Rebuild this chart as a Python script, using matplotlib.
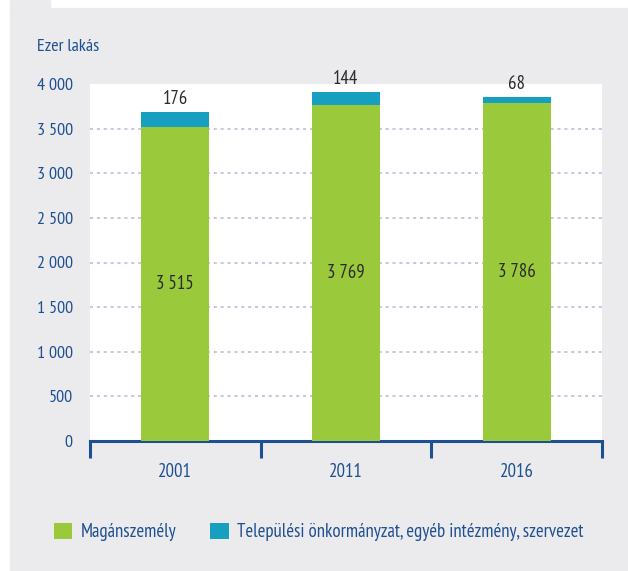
import matplotlib.pyplot as plt
from matplotlib.patches import Rectangle
from matplotlib import font_manager

years = ['2001', '2011', '2016']
private = [3515, 3769, 3786]
municipal = [176, 144, 68]
legend_labels = ['Magánszemély', 'Települési önkormányzat, egyéb intézmény, szervezet']
yticks = [0, 500, 1000, 1500, 2000, 2500, 3000, 3500, 4000]

green = '#9aca3c'
blue = '#179fbf'
navy = '#1d4f91'
bg = '#ebebed'

# pick a condensed face close to the original Myriad Condensed
names = {f.name for f in font_manager.fontManager.ttflist}
fam = 'DejaVu Sans'
for cand in ['PT Sans Narrow', 'Fira Sans Condensed', 'Roboto Condensed',
             'Open Sans Condensed', 'Liberation Sans Narrow']:
    if cand in names:
        fam = cand
        break
plt.rcParams['font.family'] = [fam, 'DejaVu Sans']
if fam == 'DejaVu Sans':
    plt.rcParams['font.stretch'] = 'condensed'

fig = plt.figure(figsize=(6.28, 5.71), dpi=100)
W, H = 628, 571
# grey panel with a small tab at the top-left
fig.patches.append(Rectangle((10 / W, 0), 1 - 10 / W, 1 - 8 / H, transform=fig.transFigure,
                             color=bg, zorder=-5))
fig.patches.append(Rectangle((10 / W, 1 - 8 / H), 40 / W, 8 / H, transform=fig.transFigure,
                             color=bg, zorder=-5))

ax = fig.add_axes([90 / W, 1 - 441 / H, (602 - 90) / W, (441 - 84) / H])
ax.set_facecolor('white')
x = range(len(years))
ax.bar(x, private, width=0.4, color=green, zorder=3, label=legend_labels[0])
ax.bar(x, municipal, width=0.4, bottom=private, color=blue, zorder=3, label=legend_labels[1])

for i in x:
    ax.text(i, private[i] / 2, f'{private[i]:,}'.replace(',', ' '), ha='center', va='center',
            fontsize=13.5, color='#2b2b2b', zorder=4)
    ax.text(i, private[i] + municipal[i] + 40, str(municipal[i]), ha='center', va='bottom',
            fontsize=13.5, color='#2b2b2b', zorder=4)

ax.set_xlim(-0.5, 2.5)
ax.set_ylim(0, 4000)
ax.set_yticks(yticks)
ax.set_yticklabels([f'{v:,}'.replace(',', ' ') for v in yticks])
for v in yticks[1:-1]:
    ax.axhline(v, color='#b3bbd2', lw=1.1, ls=(0, (2, 2.5)), zorder=1)

for s in ['top', 'right', 'left']:
    ax.spines[s].set_visible(False)
ax.spines['bottom'].set_color(navy)
ax.spines['bottom'].set_linewidth(2.2)
ax.tick_params(axis='y', length=0, labelsize=13, labelcolor=navy, pad=12.5)
ax.set_xticks([-0.5, 0.5, 1.5, 2.5])
ax.set_xticklabels([])
ax.tick_params(axis='x', length=12, width=2.2, color=navy)
ax.set_xticks([0, 1, 2], minor=True)
ax.set_xticklabels(years, minor=True)
ax.tick_params(axis='x', which='minor', length=0, labelsize=13.5, labelcolor=navy, pad=16)

fig.text(37 / W, 1 - 47 / H, 'Ezer lakás', fontsize=13, color=navy, va='center')

fig.legend(loc='center left', bbox_to_anchor=(46 / W, 1 - 532 / H), ncol=2, frameon=False,
           fontsize=13.5, labelcolor=navy, handlelength=1.0, handleheight=1.0,
           handletextpad=0.45, columnspacing=1.8, borderaxespad=0)

fig.savefig('out.png', dpi=100, facecolor='white')
